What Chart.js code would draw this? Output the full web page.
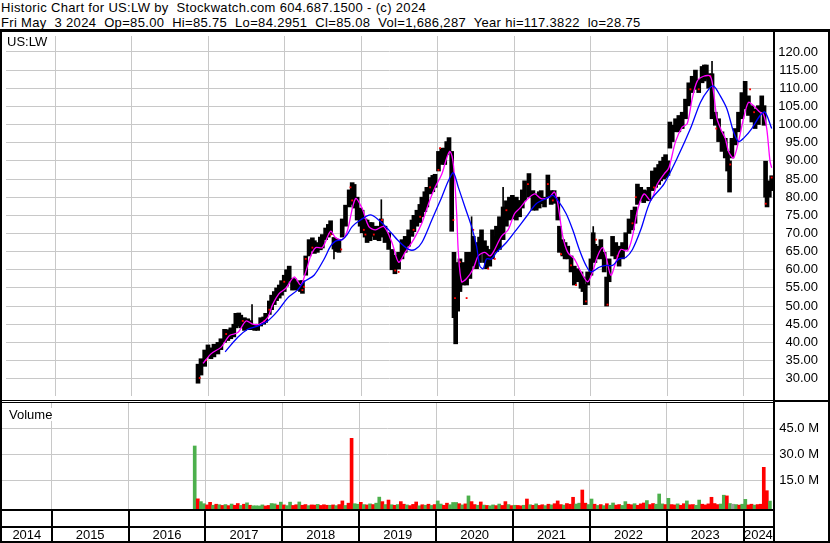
<!DOCTYPE html>
<html>
<head>
<meta charset="UTF-8">
<title>Historic Chart for US:LW</title>
<script src="https://cdn.jsdelivr.net/npm/chart.js@4.4.1/dist/chart.umd.min.js"></script>
<style>
body { margin:0; background:#fff; }
#page { position:relative; width:830px; height:543px; background:#fff; overflow:hidden;
        font-family: Arial, "Liberation Sans", sans-serif; font-size:13px; color:#000; }
.t { position:absolute; left:1px; white-space:pre; line-height:15px; letter-spacing:0.33px; }
.ln { position:absolute; background:#000; }
.lbl { position:absolute; background:#fff; line-height:13px; padding:0 2px; }
canvas { position:absolute; }
</style>
</head>
<body>
<div id="page">
  <div class="t" style="top:0">Historic Chart for US:LW by  Stockwatch.com 604.687.1500 - (c) 2024</div>
  <div class="t" style="top:15px">Fri May  3 2024  Op=85.00  Hi=85.75  Lo=84.2951  Cl=85.08  Vol=1,686,287  Year hi=117.3822  lo=28.75</div>

  <canvas id="price" width="816" height="368" style="left:2px;top:32px"></canvas>
  <canvas id="vol" width="817" height="138" style="left:2px;top:403px"></canvas>

  <!-- frame -->
  <div class="ln" style="left:0;top:29px;width:830px;height:3px"></div>
  <div class="ln" style="left:0;top:29px;width:2px;height:514px"></div>
  <div class="ln" style="left:773px;top:29px;width:2px;height:514px"></div>
  <div class="ln" style="left:828px;top:29px;width:2px;height:514px"></div>
  <div class="ln" style="left:0;top:541px;width:830px;height:2px"></div>
  <div class="ln" style="left:2px;top:400px;width:771px;height:1px"></div>
  <div class="ln" style="left:2px;top:402px;width:771px;height:1px"></div>
  <div class="ln" style="left:775px;top:400px;width:53px;height:2px"></div>

  <div class="lbl" style="left:5px;top:35px">US:LW</div>
  <div class="lbl" style="left:7px;top:408px">Volume</div>
</div>

<script>
// ---- axes ----
var X_MIN = 2014.354, X_MAX = 2024.380;
var yearLines  = [2015, 2016, 2017, 2018, 2019, 2020, 2021, 2022, 2023, 2024];
var yearLabels = [2014, 2015, 2016, 2017, 2018, 2019, 2020, 2021, 2022, 2023, 2024];
var priceTicks = [30, 35, 40, 45, 50, 55, 60, 65, 70, 75, 80, 85, 90, 95, 100, 105, 110, 115, 120];
var PRICE_MIN = 25.23, PRICE_MAX = 124.39;
var volTicks = [15, 30, 45];
var VOL_MIN = -1.56, VOL_MAX = 59.6;

// ---- price ranges (decimal year, low, high) ----
var priceDate = [
 2016.864,2016.903,2016.951,2016.994,2017.033,2017.072,2017.124,2017.163,2017.211,2017.254,
 2017.293,2017.332,2017.358,2017.397,2017.423,2017.471,2017.514,2017.553,2017.605,2017.644,
 2017.683,2017.722,2017.748,2017.796,2017.826,2017.861,2017.891,2017.926,2017.956,2017.991,
 2018.021,2018.056,2018.099,2018.125,2018.164,2018.203,2018.229,2018.272,2018.316,2018.359,
 2018.385,2018.424,2018.463,2018.489,2018.532,2018.567,2018.597,2018.641,2018.671,2018.706,
 2018.749,2018.792,2018.840,2018.879,2018.905,2018.944,2018.983,2019.009,2019.048,2019.074,
 2019.113,2019.139,2019.178,2019.230,2019.260,2019.308,2019.356,2019.399,2019.438,2019.486,
 2019.530,2019.572,2019.617,2019.660,2019.686,2019.725,2019.764,2019.790,2019.829,2019.855,
 2019.898,2019.933,2019.963,2020.007,2020.050,2020.089,2020.115,2020.145,2020.180,2020.210,
 2020.232,2020.258,2020.288,2020.332,2020.375,2020.418,2020.462,2020.505,2020.544,2020.570,
 2020.609,2020.635,2020.678,2020.713,2020.739,2020.765,2020.804,2020.852,2020.895,2020.934,
 2020.973,2021.025,2021.068,2021.103,2021.133,2021.190,2021.242,2021.285,2021.324,2021.350,
 2021.393,2021.437,2021.480,2021.519,2021.567,2021.588,2021.632,2021.662,2021.697,2021.740,
 2021.783,2021.827,2021.870,2021.896,2021.926,2021.957,2022.000,2022.030,2022.052,2022.087,
 2022.130,2022.173,2022.205,2022.238,2022.283,2022.325,2022.368,2022.413,2022.455,2022.498,
 2022.543,2022.576,2022.608,2022.651,2022.690,2022.716,2022.758,2022.803,2022.846,2022.885,
 2022.911,2022.950,2022.976,2023.006,2023.032,2023.063,2023.106,2023.149,2023.193,2023.236,
 2023.279,2023.323,2023.366,2023.409,2023.453,2023.483,2023.509,2023.539,2023.583,2023.626,
 2023.669,2023.713,2023.756,2023.786,2023.812,2023.843,2023.886,2023.929,2023.973,2024.016,
 2024.059,2024.103,2024.146,2024.189,2024.233,2024.263,2024.283,2024.302,2024.332,2024.363
];
var priceLow = [
 28.75,31.0,33.4,36.0,35.5,36.0,36.8,38.0,40.0,40.5,
 41.0,41.5,44.0,44.5,44.0,43.3,43.5,43.5,43.3,43.3,
 44.5,45.0,45.5,47.7,49.0,50.4,51.5,52.2,53.0,54.0,
 55.5,56.8,54.4,54.5,54.4,54.0,53.5,58.5,63.8,65.2,
 64.5,64.8,65.5,66.0,68.3,69.0,69.7,65.7,65.0,64.8,
 69.0,72.0,77.3,78.0,77.0,73.7,72.0,70.2,69.0,67.5,
 68.0,69.2,68.3,68.0,69.0,67.5,65.6,60.0,58.9,60.2,
 63.0,64.8,66.5,69.2,70.5,72.0,73.0,74.6,76.0,77.3,
 80.9,81.5,82.7,87.2,89.0,89.0,91.7,92.6,70.6,46.8,
 39.6,48.6,54.0,55.8,55.8,57.6,61.0,60.3,62.0,64.8,
 62.0,60.3,61.0,63.0,64.8,65.0,65.6,68.3,72.0,73.7,
 74.0,73.7,74.6,77.0,79.1,80.0,76.4,76.4,77.0,78.2,
 77.3,80.0,78.0,78.3,73.7,64.8,63.8,63.0,63.0,59.4,
 55.8,56.7,54.9,54.0,50.4,55.8,58.5,63.0,62.0,63.0,
 63.0,59.4,50.0,56.7,63.8,63.0,61.0,63.0,65.6,70.0,
 71.0,72.8,78.0,79.1,78.5,79.1,79.0,81.8,82.7,83.5,
 84.5,85.0,85.4,86.0,93.5,95.3,98.0,98.0,98.9,101.6,
 105.2,108.8,109.7,108.8,111.5,112.0,112.5,110.0,101.6,99.8,
 95.3,92.6,90.8,87.2,81.4,90.8,94.4,98.0,101.6,104.3,
 102.5,100.7,98.9,100.0,103.4,99.8,80.0,77.3,80.0,81.8
];
var priceHigh = [
 34.0,35.5,37.9,39.3,38.5,39.5,40.0,41.0,43.6,43.5,
 44.0,45.0,48.0,48.1,47.5,46.8,46.5,46.0,45.0,45.0,
 46.8,47.0,48.0,51.4,53.0,54.0,55.0,55.8,57.0,58.5,
 60.0,61.0,57.6,57.5,56.7,57.0,57.0,63.8,68.3,68.8,
 68.0,67.5,69.0,69.7,71.5,72.5,73.5,68.9,68.5,68.3,
 74.0,77.8,82.0,84.0,83.5,80.0,77.0,76.4,74.0,73.7,
 73.0,73.0,72.0,72.0,74.0,72.0,70.2,65.6,64.0,64.8,
 68.3,69.2,71.0,73.7,75.0,76.4,78.0,80.0,81.5,82.7,
 85.4,86.0,86.3,92.6,93.5,93.5,95.3,96.4,92.6,64.8,
 56.0,62.0,63.0,62.0,64.8,64.8,69.2,67.5,69.0,71.0,
 68.0,66.5,65.6,71.0,69.2,72.0,74.6,77.3,79.0,80.0,
 80.5,80.0,79.1,82.0,84.5,86.5,81.8,80.9,81.5,81.8,
 80.0,86.1,81.8,81.8,80.0,72.0,68.3,67.5,66.5,63.8,
 61.0,60.3,59.4,58.0,56.0,59.4,63.0,70.2,67.0,66.5,
 68.3,64.8,58.0,63.0,69.2,67.5,66.5,67.5,70.2,74.0,
 76.4,77.3,83.6,82.7,82.0,81.8,82.7,87.2,88.1,89.0,
 89.9,91.0,91.7,90.0,100.7,99.8,101.6,102.5,103.4,107.0,
 111.5,113.3,115.0,112.4,116.0,116.4,116.4,114.0,114.0,103.4,
 101.6,98.0,96.2,92.6,90.0,96.2,98.9,103.4,108.8,111.9,
 107.9,105.2,104.3,105.2,107.9,105.2,89.9,82.0,84.5,85.9
];

// single-day spikes (thin bars)
var spikeDate = [2017.570, 2018.641, 2019.260, 2020.440, 2020.852, 2022.030, 2023.583];
var spikeLow  = [44.5, 63.0, 70.0, 60.0, 72.0, 64.0, 108.0];
var spikeHigh = [50.4, 67.0, 79.3, 74.6, 82.7, 71.9, 117.4];

// red close marks (down days)
var redDate = [
 2016.886,2016.972,2017.232,2017.449,2017.731,2017.796,2017.991,2018.229,2018.251,2018.272,
 2018.359,2018.597,2018.736,2018.857,2018.879,2019.032,2019.052,2019.162,2019.270,2019.442,
 2019.486,2019.682,2019.768,2019.898,2020.007,2020.028,2020.202,2020.223,2020.288,2020.375,
 2020.462,2020.657,2020.743,2020.895,2021.177,2021.437,2021.502,2021.610,2021.740,2021.805,
 2021.935,2022.065,2022.217,2022.348,2022.543,2022.586,2022.824,2023.301,2023.409,2023.561,
 2023.639,2023.821,2024.081,2024.133,2024.285,2024.363
];
var redValue = [
 30.2,35.1,42.3,45.9,45.9,49.0,56.7,54.4,55.3,63.0,
 66.1,69.7,65.6,82.7,79.1,71.0,69.7,69.7,73.7,59.8,
 59.4,71.0,74.6,82.7,87.5,93.5,73.7,52.2,62.1,52.2,
 71.0,60.3,63.0,76.4,83.6,83.6,79.1,64.3,61.2,55.8,
 51.3,68.3,50.4,63.8,72.8,80.0,82.7,109.7,109.7,113.3,
 98.9,89.0,109.7,103.4,78.2,85.4
];

// moving averages
var maFastDate = [
 2016.929,2017.037,2017.167,2017.276,2017.384,2017.492,2017.579,2017.666,2017.774,2017.839,
 2017.926,2018.012,2018.121,2018.207,2018.272,2018.337,2018.402,2018.489,2018.597,2018.662,
 2018.749,2018.814,2018.922,2019.009,2019.097,2019.183,2019.292,2019.399,2019.486,2019.572,
 2019.682,2019.790,2019.877,2019.963,2020.050,2020.115,2020.158,2020.202,2020.245,2020.267,
 2020.310,2020.375,2020.462,2020.527,2020.613,2020.678,2020.722,2020.830,2020.917,2021.003,
 2021.068,2021.155,2021.263,2021.350,2021.458,2021.523,2021.567,2021.632,2021.697,2021.783,
 2021.870,2021.957,2022.022,2022.087,2022.152,2022.195,2022.261,2022.325,2022.390,2022.477,
 2022.543,2022.608,2022.694,2022.781,2022.868,2022.954,2023.019,2023.106,2023.193,2023.258,
 2023.323,2023.388,2023.474,2023.561,2023.604,2023.648,2023.713,2023.756,2023.799,2023.864,
 2023.929,2023.994,2024.059,2024.124,2024.211,2024.254,2024.298,2024.341,2024.363
];
var maFastValue = [
 34.2,36.9,38.7,41.9,42.7,45.9,45.0,45.0,46.8,50.4,
 53.5,54.9,58.0,55.8,59.4,63.8,66.1,66.1,70.6,68.8,
 68.3,70.6,79.6,76.9,71.9,71.0,71.9,67.5,62.1,64.8,
 68.3,72.8,78.2,82.7,86.3,90.8,92.6,89.0,75.5,64.8,
 56.7,57.6,60.3,63.8,64.8,63.8,64.8,69.2,71.0,75.5,
 76.9,79.1,80.9,79.6,80.0,81.4,78.2,69.2,64.8,63.0,
 59.4,56.7,59.4,63.8,66.1,63.8,58.5,62.1,65.6,65.2,
 69.2,76.4,80.9,79.1,83.6,86.3,88.1,95.3,99.3,100.2,
 107.0,111.9,113.3,113.3,108.8,101.6,98.0,96.2,92.6,90.8,
 95.3,101.6,106.1,105.2,103.4,102.9,98.9,89.9,88.1
];
var maSlowDate = [
 2017.219,2017.384,2017.514,2017.644,2017.774,2017.904,2018.034,2018.164,2018.251,2018.381,
 2018.511,2018.597,2018.662,2018.749,2018.814,2018.879,2018.987,2019.117,2019.226,2019.356,
 2019.486,2019.617,2019.703,2019.790,2019.920,2020.050,2020.137,2020.202,2020.267,2020.353,
 2020.440,2020.505,2020.548,2020.592,2020.635,2020.700,2020.765,2020.895,2021.025,2021.155,
 2021.285,2021.415,2021.502,2021.567,2021.675,2021.762,2021.848,2021.935,2022.000,2022.108,
 2022.195,2022.283,2022.368,2022.455,2022.543,2022.651,2022.781,2022.954,2023.128,2023.301,
 2023.431,2023.539,2023.604,2023.691,2023.778,2023.864,2023.929,2023.994,2024.103,2024.211,
 2024.276,2024.363
];
var maSlowValue = [
 37.4,41.4,43.6,44.5,45.9,48.6,52.2,54.4,56.7,58.5,
 62.9,66.5,67.9,68.3,69.7,71.9,73.7,75.1,73.7,71.0,
 67.9,65.6,65.6,67.5,73.7,80.0,84.5,86.7,82.7,77.3,
 71.9,66.5,61.0,60.3,63.0,63.0,64.8,67.5,71.0,74.6,
 78.2,79.6,80.5,79.1,75.5,71.0,65.6,61.2,59.4,60.7,
 61.2,61.2,63.0,63.4,65.6,71.0,79.1,83.6,90.8,98.9,
 106.1,109.7,110.6,107.9,104.3,98.0,95.3,96.2,98.9,102.5,
 103.4,98.9
];

// ---- volume, one bar per 0.04 year starting at volStart (millions) ----
var volStart = 2016.86, volStep = 0.04;
var volValue = [
 34.8,4.3,2.7,1.5,0.8,2.3,0.6,1.2,0.9,0.5,
 1.0,0.4,1.3,0.6,1.6,0.5,1.2,2.0,0.6,0.3,
 0.3,0.2,0.8,0.2,0.5,1.6,1.4,0.7,2.4,0.8,
 0.4,2.4,0.5,0.9,2.5,0.6,1.0,0.4,0.8,0.7,
 1.1,0.5,0.9,0.6,0.6,0.8,0.4,1.0,3.1,0.5,
 1.8,39.2,1.5,1.2,2.3,1.0,0.8,1.4,1.0,1.8,
 5.3,2.7,1.0,3.6,0.9,0.6,1.0,2.7,1.2,0.8,
 0.4,1.1,2.5,0.3,0.9,0.6,1.2,0.5,1.0,3.1,
 1.3,0.6,1.8,0.9,2.2,2.2,1.5,0.8,1.4,6.0,
 2.7,1.0,0.6,2.5,0.7,0.5,0.3,0.8,0.4,1.3,
 0.5,2.7,1.0,0.4,0.6,0.5,0.3,0.6,4.2,0.9,
 0.6,1.4,0.5,0.9,0.4,1.2,0.8,1.5,3.1,1.0,
 0.7,1.6,1.2,5.2,1.3,1.8,9.4,1.8,1.0,4.2,
 1.2,0.5,1.0,0.4,1.5,0.6,1.9,0.7,1.0,0.5,
 2.7,1.2,0.9,1.5,0.6,1.4,1.9,3.3,1.0,1.6,
 1.2,7.1,1.4,1.0,4.6,1.0,0.8,1.4,0.6,1.5,
 3.1,0.9,1.0,0.6,3.6,1.2,0.8,1.4,5.2,1.6,
 1.0,1.3,6.4,6.0,1.6,1.2,1.0,0.7,1.2,4.0,
 0.8,1.2,0.7,1.0,1.2,22.5,9.0,3.0
];
// 1 = up day, -1 = down day, 0 = unchanged
var volDir = [
 1,-1,1,1,-1,-1,1,-1,1,-1,
 1,-1,1,-1,-1,1,-1,1,-1,1,
 1,1,1,-1,-1,1,1,-1,1,-1,
 1,1,-1,-1,1,-1,-1,1,-1,-1,
 1,-1,-1,-1,1,-1,1,-1,-1,1,
 -1,-1,1,1,-1,1,-1,1,-1,1,
 1,-1,1,-1,1,-1,1,-1,-1,1,
 -1,-1,-1,1,-1,1,-1,1,-1,1,
 1,-1,-1,1,1,1,-1,1,-1,1,
 -1,-1,1,-1,1,-1,1,1,-1,1,
 -1,-1,1,-1,1,-1,-1,1,-1,1,
 -1,1,-1,-1,1,-1,1,-1,-1,-1,
 1,-1,-1,-1,1,1,-1,-1,1,1,
 -1,1,-1,1,-1,1,1,-1,-1,1,
 1,-1,-1,1,-1,-1,-1,1,-1,-1,
 1,1,1,-1,1,-1,-1,1,-1,-1,
 1,-1,-1,1,1,-1,-1,-1,-1,-1,
 -1,1,1,-1,1,0,1,-1,1,1,
 -1,-1,1,-1,-1,-1,-1,1
];

var GRID = '#c8c8c8';
var UP = '#4cb04c', DOWN = '#ff0000', FLAT = '#9a9a9a';

Chart.defaults.font.family = 'Arial, "Liberation Sans", sans-serif';
Chart.defaults.font.size = 13;
Chart.defaults.color = '#000';

var yearAxis = function () {
    return {
        type: 'linear', min: X_MIN, max: X_MAX, offset: false,
        afterBuildTicks: function (s) { s.ticks = yearLines.map(function (v) { return {value: v}; }); },
        afterFit: function (s) { s.height = 0; s.paddingLeft = 0; s.paddingRight = 0; },
        grid: { color: GRID, lineWidth: 1, drawTicks: false, offset: false },
        border: { display: false },
        ticks: { display: false }
    };
};

var common = {
    responsive: false, animation: false, devicePixelRatio: 1,
    layout: { padding: 0 },
    plugins: { legend: { display: false }, tooltip: { enabled: false } },
    events: []
};

// ---- price chart ----
var rangeBars = priceDate.map(function (d, i) { return {x: d, y: [priceLow[i], priceHigh[i]]}; });
var spikeBars = spikeDate.map(function (d, i) { return {x: d, y: [spikeLow[i], spikeHigh[i]]}; });

new Chart(document.getElementById('price'), {
    type: 'bar',
    data: {
        datasets: [
            { type: 'line', data: maSlowDate.map(function (d, i) { return {x: d, y: maSlowValue[i]}; }),
              borderColor: '#0000ff', borderWidth: 1.3, pointRadius: 0, tension: 0.3, order: 0 },
            { type: 'line', data: maFastDate.map(function (d, i) { return {x: d, y: maFastValue[i]}; }),
              borderColor: '#ff00ff', borderWidth: 1.3, pointRadius: 0, tension: 0.3, order: 1 },
            { type: 'line', data: redDate.map(function (d, i) { return {x: d, y: redValue[i]}; }),
              showLine: false, pointStyle: 'rect', pointRadius: 1.3, pointBorderWidth: 0,
              pointBackgroundColor: '#ff0000', order: 2 },
            { type: 'bar', data: spikeBars, backgroundColor: '#000', barThickness: 1, grouped: false, order: 3 },
            { type: 'bar', data: rangeBars, backgroundColor: '#000', barThickness: 4, grouped: false, order: 4 }
        ]
    },
    options: Object.assign({}, common, {
        scales: {
            x: yearAxis(),
            y: {
                type: 'linear', position: 'right', min: PRICE_MIN, max: PRICE_MAX, beginAtZero: false,
                afterBuildTicks: function (s) { s.ticks = priceTicks.map(function (v) { return {value: v}; }); },
                afterFit: function (s) { s.width = 45; s.paddingTop = 0; s.paddingBottom = 0; },
                grid: { color: GRID, lineWidth: 1, drawTicks: false },
                border: { display: false },
                ticks: { padding: 4, crossAlign: 'far', autoSkip: false, color: '#000',
                         callback: function (v) { return v.toFixed(2); } }
            }
        }
    })
});

// ---- volume chart + year row ----
var volBars = volValue.map(function (v, i) { return {x: volStart + i * volStep, y: v}; });
var volColors = volDir.map(function (d) { return d > 0 ? UP : (d < 0 ? DOWN : FLAT); });

var yearRow = {
    id: 'yearRow',
    afterDraw: function (chart) {
        var ctx = chart.ctx, a = chart.chartArea, x = chart.scales.x;
        ctx.save();
        ctx.fillStyle = '#000';
        ctx.fillRect(a.left, a.bottom, a.right - a.left, 2);
        ctx.fillRect(a.left, a.bottom + 17, a.right - a.left, 2);
        yearLines.forEach(function (y) {
            var px = Math.round(x.getPixelForValue(y));
            ctx.fillRect(px - 1, a.bottom + 2, 2, 30);
        });
        ctx.font = '13px Arial, "Liberation Sans", sans-serif';
        ctx.textAlign = 'center';
        ctx.textBaseline = 'alphabetic';
        yearLabels.forEach(function (y) {
            var l = Math.max(a.left, x.getPixelForValue(y));
            var r = Math.min(a.right, x.getPixelForValue(y + 1));
            ctx.fillText(String(y), (l + r) / 2, a.bottom + 30);
        });
        ctx.restore();
    }
};

new Chart(document.getElementById('vol'), {
    type: 'bar',
    data: {
        datasets: [
            { data: volBars, backgroundColor: volColors, barThickness: 3, grouped: false, base: VOL_MIN }
        ]
    },
    options: Object.assign({}, common, {
        layout: { padding: { bottom: 32 } },
        scales: {
            x: yearAxis(),
            y: {
                type: 'linear', position: 'right', min: VOL_MIN, max: VOL_MAX, beginAtZero: false,
                afterBuildTicks: function (s) { s.ticks = volTicks.map(function (v) { return {value: v}; }); },
                afterFit: function (s) { s.width = 46; s.paddingTop = 0; s.paddingBottom = 0; },
                grid: { color: GRID, lineWidth: 1, drawTicks: false },
                border: { display: false },
                ticks: { padding: 4, crossAlign: 'far', autoSkip: false, color: '#000',
                         callback: function (v) { return v.toFixed(1) + ' M'; } }
            }
        }
    }),
    plugins: [yearRow]
});
</script>
</body>
</html>
